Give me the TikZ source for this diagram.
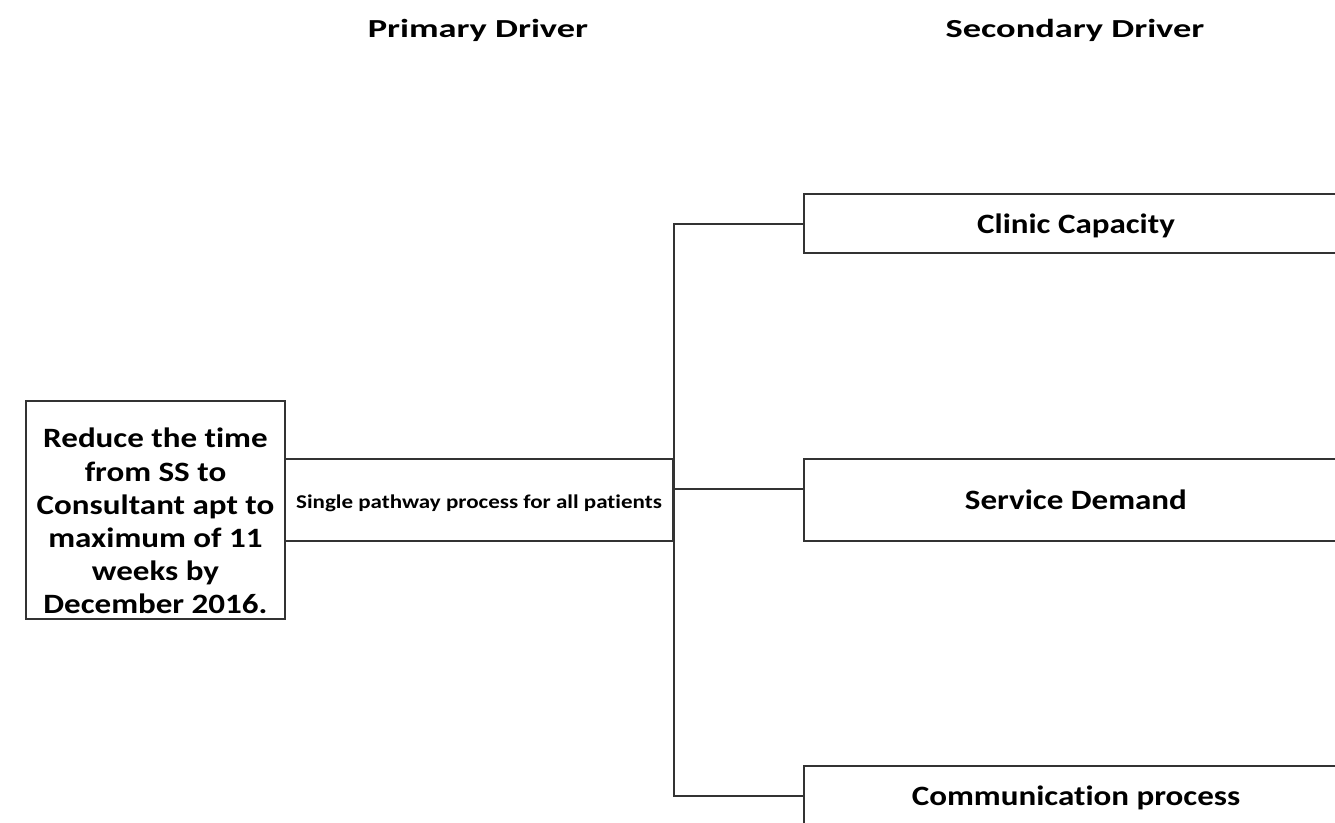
\documentclass[tikz,border=0pt]{standalone}
\usepackage{fontspec}
\setmainfont{Carlito}[FakeStretch=1.18, Ligatures=NoCommon]
\newfontfamily\headfont{Carlito}[FakeStretch=1.4, Ligatures=NoCommon]
\usetikzlibrary{positioning,calc}

\begin{document}
\begin{tikzpicture}[x=1pt, y=-1pt, line width=2pt,
    goalbox/.style={draw=black!80, rectangle, align=center, font=\fontsize{28}{33.2}\selectfont\bfseries, minimum width=259pt, minimum height=218pt, inner sep=0pt},
    drivebox/.style={draw=black!80, rectangle, align=center, font=\fontsize{28}{30}\selectfont\bfseries, minimum width=544pt, inner sep=0pt},
    header/.style={font=\fontsize{26}{30}\headfont\bfseries}]
        \useasboundingbox (0,0) rectangle (1335,822);
        % Nodes
        \node[header] (prihead) at (478,30) {Primary Driver};
        \node[header] (sechead) at (1075,30) {Secondary Driver};
        \node[goalbox] (goal) at (155.5,510) {\rule{0pt}{42pt}Reduce the time\\from SS to\\Consultant apt to\\maximum of 11\\weeks by\\December 2016.};
        \node[draw=black!80, rectangle, minimum width=388pt, minimum height=82pt, inner sep=0pt, font=\fontsize{19.5}{22}\selectfont\bfseries] (primary) at (479,500) {\rule{0pt}{20pt}Single pathway process for all patients};
        \node[drivebox, minimum height=59pt, anchor=west] (clinic) at (803,223.5) {\rule{0pt}{25pt}Clinic Capacity};
        \node[drivebox, minimum height=82pt, anchor=west] (service) at (803,500) {Service Demand};
        \node[drivebox, minimum height=59pt, anchor=west] (comm) at (803,795.5) {\rule{0pt}{25pt}Communication process};
        \coordinate (branch) at (673,489);
        
        % Lines
        \draw[black!80] (primary.east) |- (clinic.west);
        \draw[black!80] (primary.east) |- (comm.west);
        \draw[black!80] (branch) -- (branch -| service.west);
    \end{tikzpicture}
\end{document}
